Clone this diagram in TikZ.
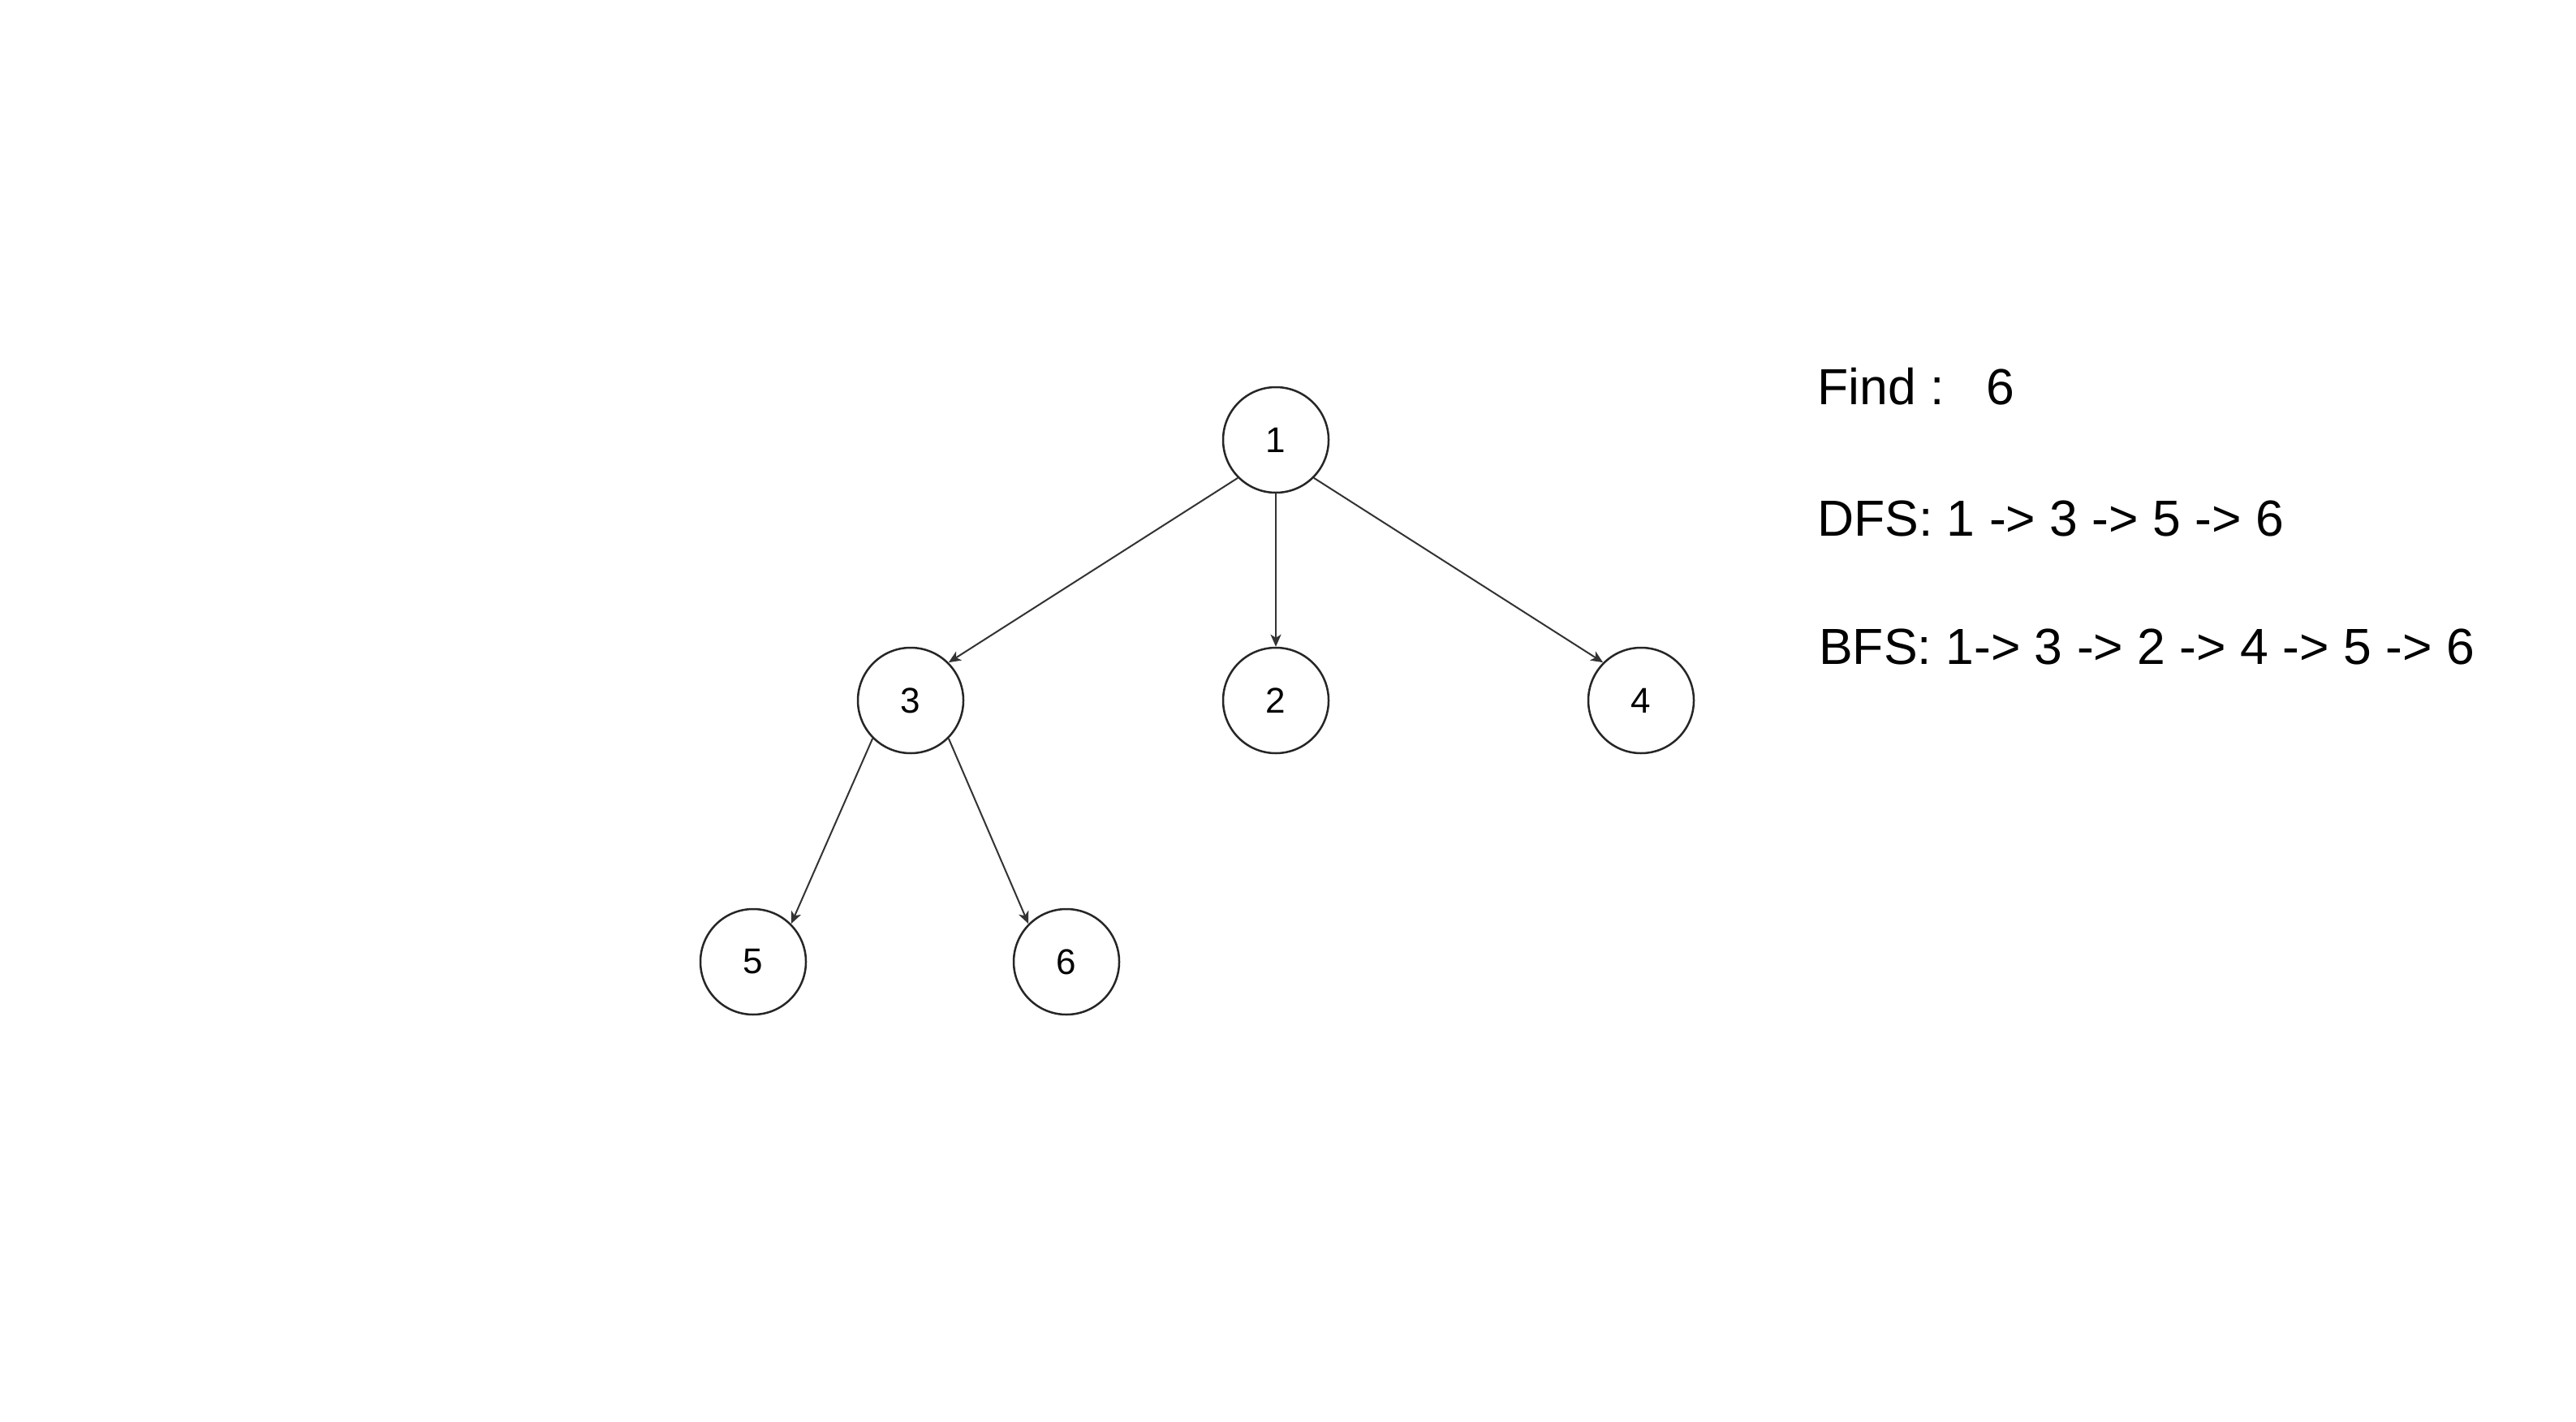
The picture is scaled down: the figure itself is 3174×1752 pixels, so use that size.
\documentclass[tikz,border=0pt]{standalone}
\usepackage{fontspec}
\setmainfont{Liberation Sans}
\usetikzlibrary{arrows.meta}
\frenchspacing
\begin{document}
\begin{tikzpicture}[x=1pt,y=-1pt,
  vertex/.style={circle,draw=black!85,line width=2.5pt,minimum size=130pt,inner sep=0pt,
    font=\fontsize{44}{50}\selectfont},
  edge/.style={draw=black!80,line width=2pt,-{Stealth[length=15pt,width=13pt,inset=4pt]}},
  info/.style={anchor=base west,inner sep=0pt,font=\fontsize{62.5}{75}\selectfont}]
\useasboundingbox[fill=white] (0,0) rectangle (3174,1752);
\node[vertex] (n1) at (1572,542) {1};
\node[vertex] (n3) at (1122,863) {3};
\node[vertex] (n2) at (1572,863) {2};
\node[vertex] (n4) at (2022,863) {4};
\node[vertex] (n5) at (928,1185) {5};
\node[vertex] (n6) at (1314,1185) {6};
\draw[edge] (n1.south west) -- (n3.north east);
\draw[edge] (n1) -- (n2);
\draw[edge] (n1.south east) -- (n4.north west);
\draw[edge] (n3.south west) -- (n5.north east);
\draw[edge] (n3.south east) -- (n6.north west);
\node[info] (find) at (2239,498) {Find :\ \ \ 6};
\node[info] (dfs) at (2239,660) {DFS: 1 -> 3 -> 5 -> 6};
\node[info] (bfs) at (2241,818) {BFS: 1-> 3 -> 2 -> 4 -> 5 -> 6};
\end{tikzpicture}
\end{document}
